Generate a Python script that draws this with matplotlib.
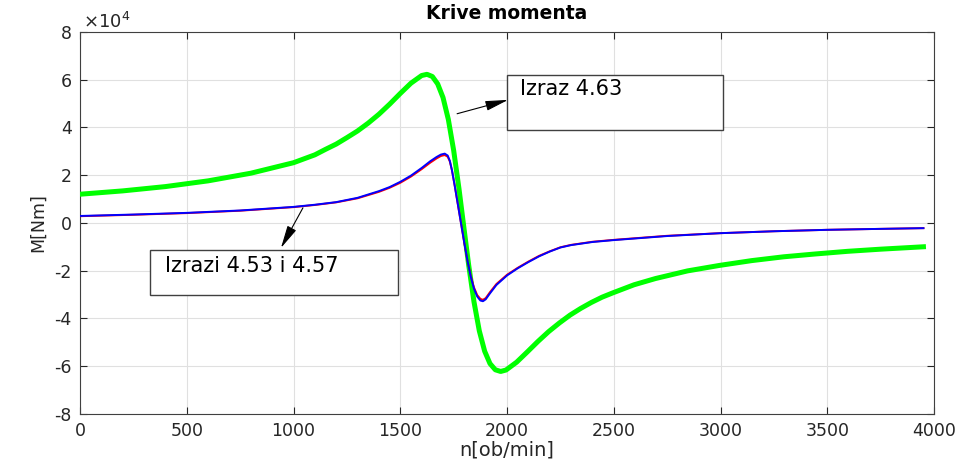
import numpy as np
import matplotlib
matplotlib.use("Agg")
import matplotlib.pyplot as plt

plt.rcParams['font.family'] = ['DejaVu Sans']
plt.rcParams['axes.unicode_minus'] = False

# brzina [ob/min] i moment [x 1e4 Nm], ocitano sa slike
n_green = [0, 200, 400, 600, 700, 800, 900, 1000, 1100, 1150, 1200, 1250,
           1300, 1350, 1400, 1450, 1500, 1550, 1600, 1625, 1650, 1675, 1700,
           1725, 1750, 1775, 1795, 1820, 1845, 1870, 1895, 1920, 1945, 1970,
           1995, 2045, 2095, 2145, 2195, 2245, 2295, 2345, 2395, 2445, 2495,
           2595, 2695, 2845, 2995, 3145, 3295, 3445, 3595, 3750, 3950]
M_green = [1.2, 1.34, 1.52, 1.76, 1.92, 2.08, 2.3, 2.52, 2.85, 3.08, 3.3,
           3.57, 3.85, 4.18, 4.55, 4.97, 5.42, 5.85, 6.17, 6.22, 6.13, 5.82,
           5.25, 4.33, 3.03, 1.42, 0.0, -1.75, -3.3, -4.52, -5.37, -5.89,
           -6.15, -6.22, -6.16, -5.83, -5.4, -4.96, -4.55, -4.19, -3.86,
           -3.58, -3.33, -3.11, -2.93, -2.59, -2.33, -2.01, -1.78, -1.58,
           -1.42, -1.3, -1.19, -1.1, -1.0]

n_blue = [0, 250, 500, 750, 1000, 1100, 1200, 1300, 1400, 1450, 1500, 1550,
          1600, 1640, 1670, 1690, 1708, 1722, 1732, 1742, 1755, 1770, 1785,
          1800, 1815, 1830, 1845, 1860, 1875, 1887, 1900, 1920, 1950, 2000,
          2050, 2100, 2150, 2200, 2250, 2300, 2400, 2500, 2750, 3000, 3250,
          3500, 3750, 3950]
M_blue = [0.29, 0.35, 0.42, 0.52, 0.67, 0.76, 0.87, 1.05, 1.33, 1.5, 1.72,
          1.98, 2.3, 2.58, 2.76, 2.86, 2.9, 2.82, 2.6, 2.2, 1.55, 0.75,
          -0.05, -0.85, -1.6, -2.25, -2.75, -3.08, -3.25, -3.28, -3.2, -2.95,
          -2.6, -2.2, -1.9, -1.64, -1.4, -1.2, -1.03, -0.93, -0.8, -0.72,
          -0.55, -0.43, -0.35, -0.29, -0.25, -0.22]
M_red = [0.28, 0.34, 0.41, 0.51, 0.66, 0.75, 0.86, 1.03, 1.3, 1.47, 1.68,
         1.94, 2.25, 2.52, 2.7, 2.8, 2.84, 2.77, 2.57, 2.2, 1.55, 0.75,
         -0.05, -0.85, -1.6, -2.22, -2.7, -3.02, -3.18, -3.22, -3.15, -2.9,
         -2.56, -2.17, -1.88, -1.62, -1.38, -1.19, -1.02, -0.92, -0.79, -0.71,
         -0.54, -0.43, -0.35, -0.29, -0.25, -0.22]

fig = plt.figure(figsize=(9.64, 4.61), dpi=100)
ax = fig.add_axes([0.083, 0.102, 0.886, 0.829])

ax.plot(n_green, M_green, color=(0, 1, 0), lw=3.6, zorder=3)
ax.plot(n_blue, M_red, color='red', lw=1.4, zorder=4)
ax.plot(n_blue, M_blue, color='blue', lw=1.4, zorder=5)

ax.set_xlim(0, 4000)
ax.set_ylim(-8, 8)
ax.set_xticks(np.arange(0, 4001, 500))
ax.set_yticks(np.arange(-8, 9, 2))
ax.grid(True, color='#e0e0e0', lw=0.8)
ax.set_axisbelow(True)
ax.tick_params(direction='in', length=5, labelsize=12.5, colors='#262626',
               top=True, right=True, pad=6)
for s in ax.spines.values():
    s.set_color('#404040')

ax.text(0.003, 1.0, r'$\times10^{4}$', transform=ax.transAxes,
        fontsize=13, color='#262626', va='bottom', ha='left')
ax.set_title('Krive momenta', fontsize=13.5, fontweight='bold', pad=9)
ax.set_xlabel('n[ob/min]', fontsize=14, color='#262626', labelpad=0)
ax.set_ylabel('M[Nm]', fontsize=12.5, color='#262626', labelpad=5)

arrow = dict(arrowstyle='-|>,head_length=1.4,head_width=0.3',
             color='black', lw=0.8, shrinkA=0, shrinkB=0)

# okvir Izraz 4.63
ax.add_patch(plt.Rectangle((2000, 3.9), 1012, 2.3, fc='white',
                           ec='#404040', lw=1, zorder=6))
ax.text(2061, 5.6, 'Izraz 4.63', fontsize=15,
        va='center', zorder=7)
ax.annotate('', xy=(2005, 5.15), xytext=(1766, 4.57), arrowprops=arrow,
            zorder=7)

# okvir Izrazi 4.53 i 4.57
ax.add_patch(plt.Rectangle((328, -3.02), 1161, 1.89, fc='white',
                           ec='#404040', lw=1, zorder=6))
ax.text(398, -1.82, 'Izrazi 4.53 i 4.57', fontsize=15,
        va='center', zorder=7)
ax.annotate('', xy=(941, -1.05), xytext=(1044, 0.63), arrowprops=arrow,
            zorder=7)

fig.savefig('out.png', dpi=100)
